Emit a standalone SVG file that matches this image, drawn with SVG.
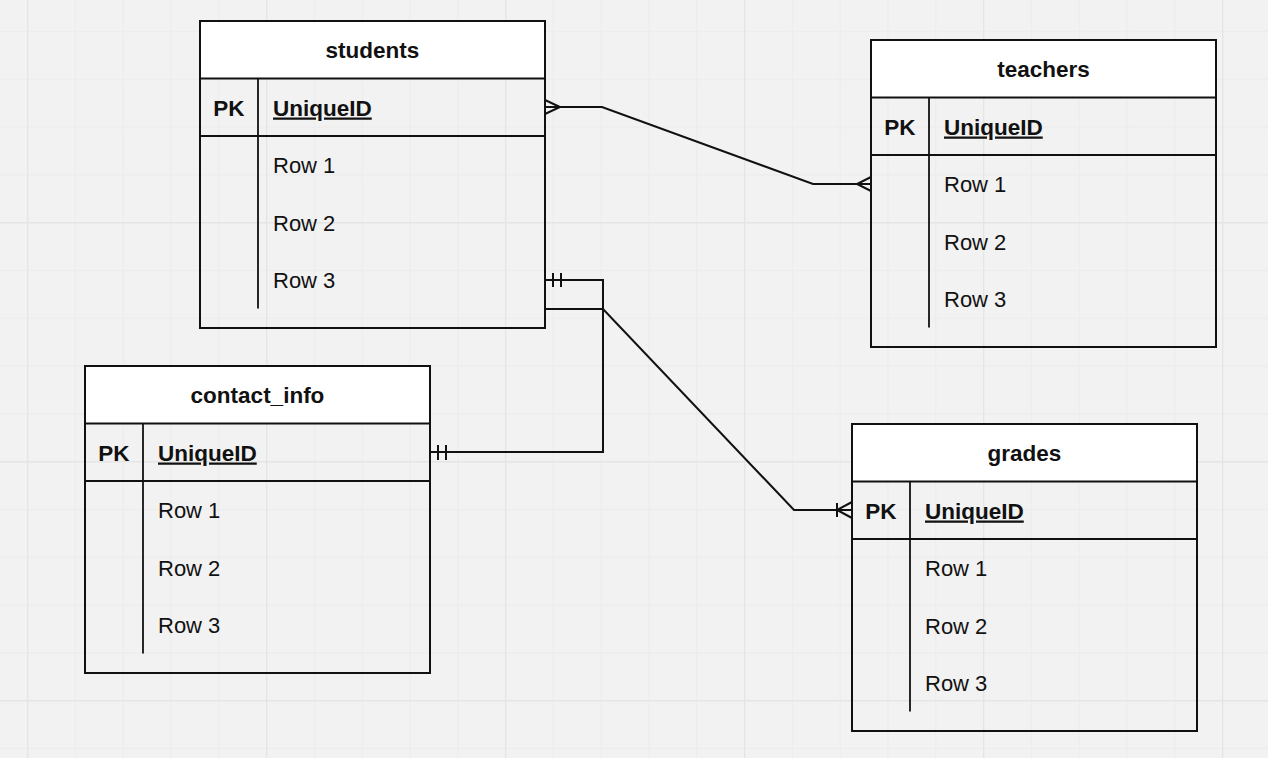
<svg xmlns="http://www.w3.org/2000/svg" width="1268" height="758" viewBox="0 0 1268 758">
  <style>
    .frame { fill: none; stroke: #111; stroke-width: 2; }
    .head { fill: #ffffff; stroke: #111; stroke-width: 2; }
    .sep { stroke: #111; stroke-width: 2; fill: none; }
    .div { stroke: #111; stroke-width: 1.8; fill: none; }
    .title { font-family: "Liberation Sans", Arial, sans-serif; font-size: 22.5px; font-weight: bold; fill: #111; text-anchor: middle; }
    .pk { font-family: "Liberation Sans", Arial, sans-serif; font-size: 22.5px; font-weight: bold; fill: #111; text-anchor: middle; }
    .key { font-family: "Liberation Sans", Arial, sans-serif; font-size: 22.5px; font-weight: bold; fill: #111; text-decoration: underline; }
    .row { font-family: "Liberation Sans", Arial, sans-serif; font-size: 22px; fill: #111; }
    .conn { fill: none; stroke: #111; stroke-width: 2; }
  </style>
  <defs>
    <pattern id="minor" patternUnits="userSpaceOnUse" x="27" y="30.8" width="47.8" height="47.8">
      <path d="M0.5 0 V47.8 M0 0.5 H47.8" fill="none" stroke="#ececec" stroke-width="1.3"/>
    </pattern>
    <pattern id="major" patternUnits="userSpaceOnUse" x="27" y="222" width="239" height="239">
      <path d="M0.5 0 V239 M0 0.5 H239" fill="none" stroke="#e5e5e5" stroke-width="1.8"/>
    </pattern>
    <g id="table">
      <rect class="head" x="0" y="0" width="345" height="57.5"/>
      <rect class="frame" x="0" y="0" width="345" height="307"/>
      <line class="sep" x1="0" y1="115" x2="345" y2="115"/>
      <line class="div" x1="58" y1="57.5" x2="58" y2="287.5"/>
      <text class="pk" x="29" y="94.5">PK</text>
      <text class="key" x="73" y="94.5">UniqueID</text>
      <text class="row" x="73" y="152">Row 1</text>
      <text class="row" x="73" y="209.5">Row 2</text>
      <text class="row" x="73" y="267">Row 3</text>
    </g>
  </defs>
  <rect x="0" y="0" width="1268" height="758" fill="#f2f2f2"/>
  <rect x="0" y="0" width="1268" height="758" fill="url(#minor)"/>
  <rect x="0" y="0" width="1268" height="758" fill="url(#major)"/>

  <g id="connectors">
    <!-- students - teachers (many to many) -->
    <path class="conn" d="M545 107 H602 L813 184 H871"/>
    <path class="conn" d="M545 100 L560 107 L545 114"/>
    <path class="conn" d="M871 177 L857 184 L871 191"/>
    <!-- students - contact_info (one to one) -->
    <path class="conn" d="M545 280 H603 V452 H430"/>
    <path class="conn" d="M553 273 V287 M561 273 V287"/>
    <path class="conn" d="M438 445 V460 M446 445 V460"/>
    <!-- students - grades (one to many) -->
    <path class="conn" d="M545 309 H603 L794 510 H852"/>
    <path class="conn" d="M837 503 V517"/>
    <path class="conn" d="M852 502 L837 510 L852 518"/>
  </g>

  <g id="students" transform="translate(200,21)">
    <use href="#table"/>
    <text class="title" x="172.5" y="37">students</text>
  </g>
  <g id="teachers" transform="translate(871,40)">
    <use href="#table"/>
    <text class="title" x="172.5" y="37">teachers</text>
  </g>
  <g id="contact_info" transform="translate(85,366)">
    <use href="#table"/>
    <text class="title" x="172.5" y="37">contact_info</text>
  </g>
  <g id="grades" transform="translate(852,424)">
    <use href="#table"/>
    <text class="title" x="172.5" y="37">grades</text>
  </g>
</svg>
